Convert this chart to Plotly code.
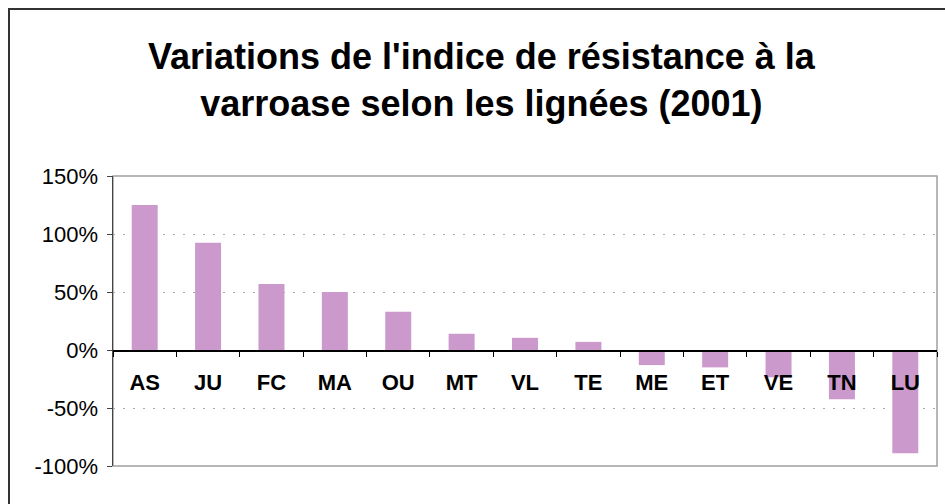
import plotly.graph_objects as go

categories = ["AS", "JU", "FC", "MA", "OU", "MT", "VL", "TE", "ME", "ET", "VE", "TN", "LU"]
values = [1.25, 0.925, 0.57, 0.50, 0.33, 0.14, 0.105, 0.07, -0.13, -0.15, -0.235, -0.425, -0.89]
y_ticks = [-1.0, -0.5, 0.0, 0.5, 1.0, 1.5]
y_tick_labels = ["-100%", "-50%", "0%", "50%", "100%", "150%"]
title_lines = ["Variations de l'indice de résistance à la", "varroase selon les lignées (2001)"]

W, H = 945, 504
L, R, T, B = 113, 937, 176, 466
pw, ph = R - L, B - T

def px_x(x):
    return (x - L) / pw

def px_y(y):
    return (B - y) / ph

FONT = "Liberation Sans, Arial, sans-serif"

fig = go.Figure()
fig.add_trace(go.Bar(x=categories, y=values, marker=dict(color="#CC99CC", line=dict(width=0)),
                     width=0.41, hoverinfo="skip"))

fig.update_layout(
    width=W, height=H,
    margin=dict(l=L, r=W - R, t=T, b=H - B, pad=0),
    paper_bgcolor="white", plot_bgcolor="white",
    showlegend=False,
    font=dict(family=FONT, color="black"),
    xaxis=dict(
        anchor="free", position=0.4,
        showline=True, linecolor="black", linewidth=1.5,
        ticks="outside", tickson="boundaries", ticklen=5, tickcolor="black", tickwidth=1,
        tickfont=dict(size=22, family=FONT, color="black", weight="bold"),
        ticklabelstandoff=12,
        showgrid=False, zeroline=False, range=[-0.5, 12.5],
    ),
    yaxis=dict(
        range=[-1.0, 1.5], tickvals=y_ticks, ticktext=y_tick_labels,
        showline=True, linecolor="#444444", linewidth=1.5,
        ticks="outside", ticklen=5, tickcolor="#444444",
        tickfont=dict(size=22, family=FONT, color="black"),
        ticklabelstandoff=4,
        showgrid=True, gridcolor="#AAAAAA", griddash="2px,8px", gridwidth=1,
        zeroline=False,
    ),
    shapes=[
        dict(type="rect", xref="paper", yref="paper", x0=0, x1=1, y0=0, y1=1,
             line=dict(color="#A0A0A0", width=1.5), layer="below"),
        dict(type="rect", xref="paper", yref="paper",
             x0=px_x(9), x1=px_x(960), y0=px_y(9), y1=px_y(520),
             line=dict(color="#333333", width=2)),
    ],
    annotations=[
        dict(text="<b>" + title_lines[0] + "</b><br><b>" + title_lines[1] + "</b>",
             xref="paper", yref="paper", x=px_x(482), y=px_y(80),
             xanchor="center", yanchor="middle", showarrow=False,
             font=dict(size=36, family=FONT, color="black")),
    ],
)

fig.write_html("out.html", config={"displayModeBar": False, "staticPlot": True},
               post_script="document.body.style.margin='0';document.body.style.overflow='hidden';")
